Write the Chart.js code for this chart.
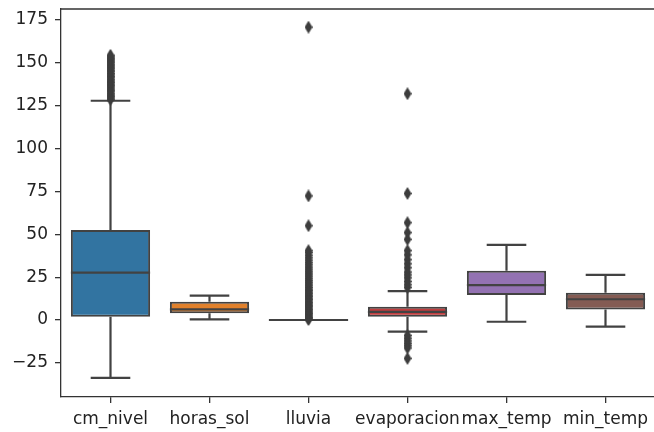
<!DOCTYPE html>
<html>
<head>
<meta charset="utf-8">
<script src="https://cdn.jsdelivr.net/npm/chart.js@4"></script>
<style>
  html, body { margin: 0; padding: 0; background: #fff; overflow: hidden; }
  #wrap { width: 656px; height: 432px; }
</style>
</head>
<body>
<div id="wrap"><canvas id="boxChart" width="656" height="432"></canvas></div>
<script>
// box statistics
const categories = ['cm_nivel', 'horas_sol', 'lluvia', 'evaporacion', 'max_temp', 'min_temp'];
const q1Values = [1.9, 3.9, 0, 1.9, 14.6, 6.2];
const medianValues = [27.6, 6.2, 0, 4.8, 20.4, 12.1];
const q3Values = [52.5, 10.7, 0, 7.8, 28.8, 15.9];
const lowerWhiskers = [-33.7, 0.4, 0, -6.8, -1.0, -3.9];
const upperWhiskers = [127.9, 14.2, 0, 16.9, 43.8, 26.3];
const boxColors = ['#3274a1', '#e1812c', '#3a923a', '#c03d3e', '#9372b2', '#845b53'];
const yTicks = [-25, 0, 25, 50, 75, 100, 125, 150, 175];

// outliers (fliers)
const cmNivelOutliers = [128.6, 129.5, 130.3, 131.2, 132.0, 133.1, 134.0, 134.8, 135.9, 136.7, 137.6, 138.5,
  139.4, 140.2, 141.3, 142.1, 143.0, 143.8, 144.9, 145.7, 146.6, 147.5, 148.3, 149.2, 150.1, 151.0,
  151.8, 152.7, 153.5, 154.4];
const lluviaOutliers = [0.3, 0.8, 1.5, 2.3, 3.0, 3.8, 4.6, 5.3, 6.1, 7.0, 7.8, 8.6, 9.4, 10.2, 11.1, 12.0,
  12.8, 13.7, 14.5, 15.4, 16.3, 17.2, 18.0, 19.0, 20.0, 21.0, 22.0, 23.0, 24.1, 25.2, 26.3, 27.4,
  28.5, 29.7, 30.9, 32.2, 33.5, 34.9, 36.3, 37.8, 39.4, 40.5, 55.0, 72.4, 170.8];
const evaporacionOutliers = [-22.4, -16.3, -15.0, -13.6, -12.2, -10.6, -9.0, 19.0, 20.6, 22.5, 24.6, 26.3,
  28.0, 30.5, 32.8, 35.2, 38.0, 40.5, 47.0, 51.0, 56.8, 73.8, 132.0];

const LINE = '#424242';
const AXIS = '#333333';

function makeDiamond(w, h, color) {
  const c = document.createElement('canvas');
  c.width = w; c.height = h;
  const g = c.getContext('2d');
  g.fillStyle = color;
  g.beginPath();
  g.moveTo(w / 2, 0); g.lineTo(w, h / 2); g.lineTo(w / 2, h); g.lineTo(0, h / 2);
  g.closePath();
  g.fill();
  return c;
}
const diamond = makeDiamond(8, 13, '#3d3d3d');

const toPoints = (cat, vals) => vals.map(v => ({ x: cat, y: v }));
const outlierPoints = [].concat(
  toPoints('cm_nivel', cmNivelOutliers),
  toPoints('lluvia', lluviaOutliers),
  toPoints('evaporacion', evaporacionOutliers)
);

// whiskers, caps, medians and the top spine, all placed through the chart scales
const boxParts = {
  id: 'boxParts',
  beforeDatasetsDraw(chart) {
    const { ctx, scales: { x, y } } = chart;
    const capHalf = (x.getPixelForValue(1) - x.getPixelForValue(0)) * 0.2;
    ctx.save();
    ctx.strokeStyle = LINE;
    ctx.lineWidth = 2.2;
    categories.forEach((c, i) => {
      const cx = x.getPixelForValue(i);
      const lo = y.getPixelForValue(lowerWhiskers[i]);
      const hi = y.getPixelForValue(upperWhiskers[i]);
      const b1 = y.getPixelForValue(q1Values[i]);
      const b3 = y.getPixelForValue(q3Values[i]);
      ctx.beginPath();
      ctx.moveTo(cx, b1); ctx.lineTo(cx, lo);
      ctx.moveTo(cx, b3); ctx.lineTo(cx, hi);
      ctx.moveTo(cx - capHalf, lo); ctx.lineTo(cx + capHalf, lo);
      ctx.moveTo(cx - capHalf, hi); ctx.lineTo(cx + capHalf, hi);
      ctx.stroke();
    });
    ctx.restore();
  },
  afterDatasetDraw(chart, args) {
    if (args.index !== 0) return;
    const { ctx, scales: { x, y } } = chart;
    const half = (x.getPixelForValue(1) - x.getPixelForValue(0)) * 0.4;
    ctx.save();
    ctx.strokeStyle = LINE;
    ctx.lineWidth = 2.2;
    categories.forEach((c, i) => {
      const cx = x.getPixelForValue(i);
      const my = y.getPixelForValue(medianValues[i]);
      ctx.beginPath();
      ctx.moveTo(cx - half, my); ctx.lineTo(cx + half, my);
      ctx.stroke();
    });
    ctx.restore();
  },
  afterDraw(chart) {
    const { ctx, chartArea: a } = chart;
    ctx.save();
    ctx.strokeStyle = AXIS;
    ctx.lineWidth = 1.3;
    ctx.beginPath();
    ctx.moveTo(a.left, a.top); ctx.lineTo(a.right, a.top); ctx.lineTo(a.right, a.bottom);
    ctx.stroke();
    ctx.restore();
  }
};

const tickFont = { family: 'DejaVu Sans', size: 17 };
const noPad = s => { s.paddingTop = 0; s.paddingBottom = 0; s.paddingLeft = 0; s.paddingRight = 0; };

new Chart(document.getElementById('boxChart').getContext('2d'), {
  type: 'bar',
  data: {
    labels: categories,
    datasets: [
      {
        label: 'box',
        data: q1Values.map((q, i) => [q, q3Values[i]]),
        backgroundColor: boxColors,
        borderColor: LINE,
        borderWidth: 2,
        borderSkipped: false,
        barPercentage: 0.8,
        categoryPercentage: 1,
        order: 2
      },
      {
        type: 'scatter',
        label: 'outliers',
        data: outlierPoints,
        pointStyle: diamond,
        pointRadius: 5,
        order: 0
      }
    ]
  },
  options: {
    responsive: false,
    animation: false,
    layout: { autoPadding: false, padding: { top: 9, right: 1, left: 0, bottom: 0 } },
    plugins: { legend: { display: false }, tooltip: { enabled: false } },
    scales: {
      x: {
        type: 'category',
        afterFit: s => { s.height = 35; noPad(s); },
        grid: { display: true, offset: false, drawOnChartArea: false, drawTicks: true, tickLength: 6, tickColor: AXIS, lineWidth: 1.3 },
        border: { display: true, color: AXIS, width: 1.3 },
        ticks: { autoSkip: false, maxRotation: 0, padding: 6, color: '#222', font: tickFont }
      },
      y: {
        type: 'linear',
        min: -44.9,
        max: 181.4,
        afterFit: s => { s.width = 61; noPad(s); },
        afterBuildTicks: s => { s.ticks = yTicks.map(v => ({ value: v })); },
        grid: { display: true, drawOnChartArea: false, drawTicks: true, tickLength: 6, tickColor: AXIS, lineWidth: 1.3 },
        border: { display: true, color: AXIS, width: 1.3 },
        ticks: {
          padding: 7,
          color: '#222',
          font: tickFont,
          callback: v => String(v).replace('-', '\u2212')
        }
      }
    }
  },
  plugins: [boxParts]
});
</script>
</body>
</html>
